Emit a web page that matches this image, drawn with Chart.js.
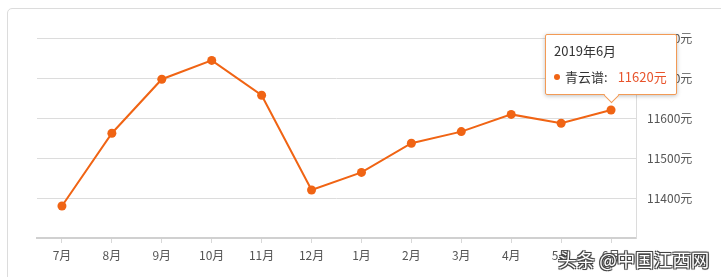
<!DOCTYPE html>
<html>
<head>
<meta charset="utf-8">
<script src="https://cdn.jsdelivr.net/npm/chart.js@4/dist/chart.umd.min.js"></script>
<style>
  html, body { margin: 0; padding: 0; background: #fff; }
  #wrap { position: relative; width: 721px; height: 277px; overflow: hidden; font-family: "Noto Sans CJK SC", "Noto Sans", sans-serif; }
  #card { position: absolute; left: 7px; top: 8px; width: 740px; height: 300px; border: 1px solid #dcdcdc; border-radius: 5px; box-sizing: border-box; }
  canvas { position: absolute; left: 0; top: 0; }
  #tip { position: absolute; background: #fff; border: 1px solid #f29a55; box-shadow: 0 1px 4px rgba(0,0,0,0.25); border-radius: 2px; padding: 7px 9px 8px 8px; box-sizing: border-box; color: #333; font-size: 13px; white-space: nowrap; pointer-events: none; display: none; }
  #tip .t { line-height: 18px; margin-bottom: 8px; }
  #tip .r { line-height: 18px; }
  #tip .dot { display: inline-block; width: 6px; height: 6px; border-radius: 50%; background: #f06414; margin-right: 5px; vertical-align: 2px; }
  #tip .v { color: #e8542c; margin-left: 10px; }
  #tip .caret { position: absolute; left: 50%; bottom: -7px; width: 10px; height: 10px; margin-left: -5px; background: #fff; border-right: 1px solid #f29a55; border-bottom: 1px solid #f29a55; transform: rotate(45deg); }
  #wm { position: absolute; left: 558px; top: 246px; font-size: 18.5px; color: #fff; white-space: nowrap; text-shadow: -1px -1px 0 #444, 1px -1px 0 #444, -1px 1px 0 #444, 1px 1px 0 #444, 0 0 2px #000; }
</style>
</head>
<body>
<div id="wrap">
  <div id="card"></div>
  <canvas id="c" width="721" height="277"></canvas>
  <div id="tip"></div>
  <div id="wm">头条 @中国江西网</div>
</div>
<script>
const categories = ['7月','8月','9月','10月','11月','12月','1月','2月','3月','4月','5月','6月'];
const fullDates = ['2018年7月','2018年8月','2018年9月','2018年10月','2018年11月','2018年12月','2019年1月','2019年2月','2019年3月','2019年4月','2019年5月','2019年6月'];
const seriesName = '青云谱';
const prices = [11380, 11562, 11697, 11744, 11657, 11420, 11464, 11537, 11566, 11609, 11587, 11620];
const yTicks = [11300, 11400, 11500, 11600, 11700, 11800];
const unit = '元';

const orange = '#f06414';

function externalTip(context) {
  const tip = document.getElementById('tip');
  const tm = context.tooltip;
  if (!tm || tm.opacity === 0 || !tm.dataPoints || !tm.dataPoints.length) { tip.style.display = 'none'; return; }
  const dp = tm.dataPoints[0];
  tip.innerHTML = '<div class="t">' + fullDates[dp.dataIndex] + '</div>' +
    '<div class="r"><span class="dot"></span>' + seriesName + ':<span class="v">' + dp.raw + unit + '</span></div>' +
    '<div class="caret"></div>';
  tip.style.display = 'block';
  const w = tip.offsetWidth, h = tip.offsetHeight;
  tip.style.left = (tm.caretX - w / 2) + 'px';
  tip.style.top = (tm.caretY - 15 - h) + 'px';
}

const chart = new Chart(document.getElementById('c'), {
  type: 'line',
  data: {
    labels: categories,
    datasets: [{
      label: seriesName,
      data: prices,
      borderColor: orange,
      backgroundColor: orange,
      borderWidth: 2,
      pointRadius: 4.5,
      pointHoverRadius: 4.5,
      pointBackgroundColor: orange,
      pointBorderColor: orange,
      pointBorderWidth: 0,
      tension: 0,
      fill: false
    }]
  },
  options: {
    responsive: false,
    animation: false,
    events: [],
    layout: { padding: { left: 37, top: 38, right: 0, bottom: 0 } },
    plugins: {
      legend: { display: false },
      tooltip: { enabled: false, external: externalTip, mode: 'index', intersect: false }
    },
    scales: {
      x: {
        offset: true,
        grid: { display: true, drawOnChartArea: false, drawTicks: true, tickLength: 5, offset: false, color: '#d8d8d8' },
        border: { display: true, color: '#d0d0d0', width: 2 },
        ticks: { color: '#555', font: { size: 12, family: '"Noto Sans CJK SC", sans-serif' }, padding: 5, maxRotation: 0, autoSkip: false },
        afterFit: (s) => { s.height = 39; }
      },
      y: {
        position: 'right',
        min: yTicks[0],
        max: yTicks[yTicks.length - 1],
        afterBuildTicks: (s) => { s.ticks = yTicks.map(v => ({ value: v })); },
        grid: { color: '#dcdcdc', drawTicks: false, lineWidth: 1 },
        border: { display: true, color: '#dcdcdc', width: 1 },
        ticks: {
          color: '#555',
          font: { size: 12, family: '"Noto Sans CJK SC", sans-serif' },
          padding: 11,
          callback: (v) => v === yTicks[0] ? '' : v + unit
        },
        afterFit: (s) => { s.width = 85; }
      }
    }
  }
});

const meta = chart.getDatasetMeta(0);
const last = prices.length - 1;
const el = meta.data[last];
chart.tooltip.setActiveElements([{ datasetIndex: 0, index: last }], { x: el.x, y: el.y });
chart.update();
</script>
</body>
</html>
